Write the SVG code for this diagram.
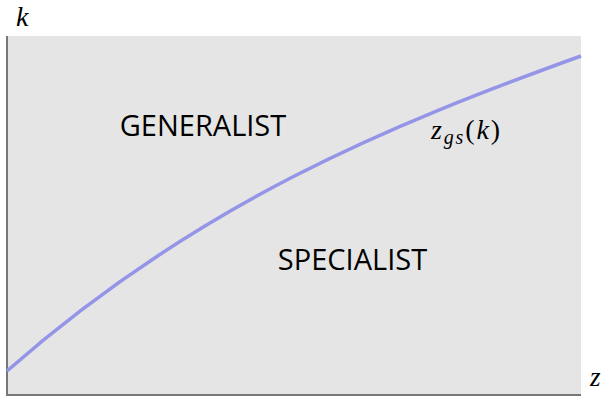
<svg xmlns="http://www.w3.org/2000/svg" width="606" height="396" viewBox="0 0 606 396">
<style>
.math{font-family:"Liberation Serif","DejaVu Serif",serif;font-style:italic;fill:#000}
.lbl{font-family:"Open Sans","Noto Sans",sans-serif;font-size:29px;fill:#000;text-anchor:middle}
.axis{stroke:#777;stroke-width:2;fill:none}
.curve{stroke:#9595e8;stroke-width:3.5;fill:none}
</style>
<rect width="606" height="396" fill="#fff"/>
<g id="plot">
<rect x="7" y="36" width="574" height="359" fill="#e5e5e5"/>
</g>
<g id="axes">
<line class="axis" x1="7" y1="36" x2="7" y2="396"/>
<line class="axis" x1="6" y1="395" x2="581" y2="395"/>
</g>
<g id="connectors">
<path class="curve" d="M7,371 C198,203 390,124.8 581,56"/>
</g>
<g id="generalist"><text class="lbl" x="203" y="136">GENERALIST</text></g>
<g id="specialist"><text class="lbl" x="352.5" y="270">SPECIALIST</text></g>
<g id="curve-label"><text class="math" x="431" y="139" font-size="28" textLength="69" lengthAdjust="spacing">z<tspan font-size="20" dy="5">gs</tspan><tspan dy="-5" font-style="normal">(</tspan>k<tspan font-style="normal">)</tspan></text></g>
<g id="k-label"><text class="math" x="16" y="26" font-size="28">k</text></g>
<g id="z-label"><text class="math" x="590" y="386" font-size="27">z</text></g>
</svg>
